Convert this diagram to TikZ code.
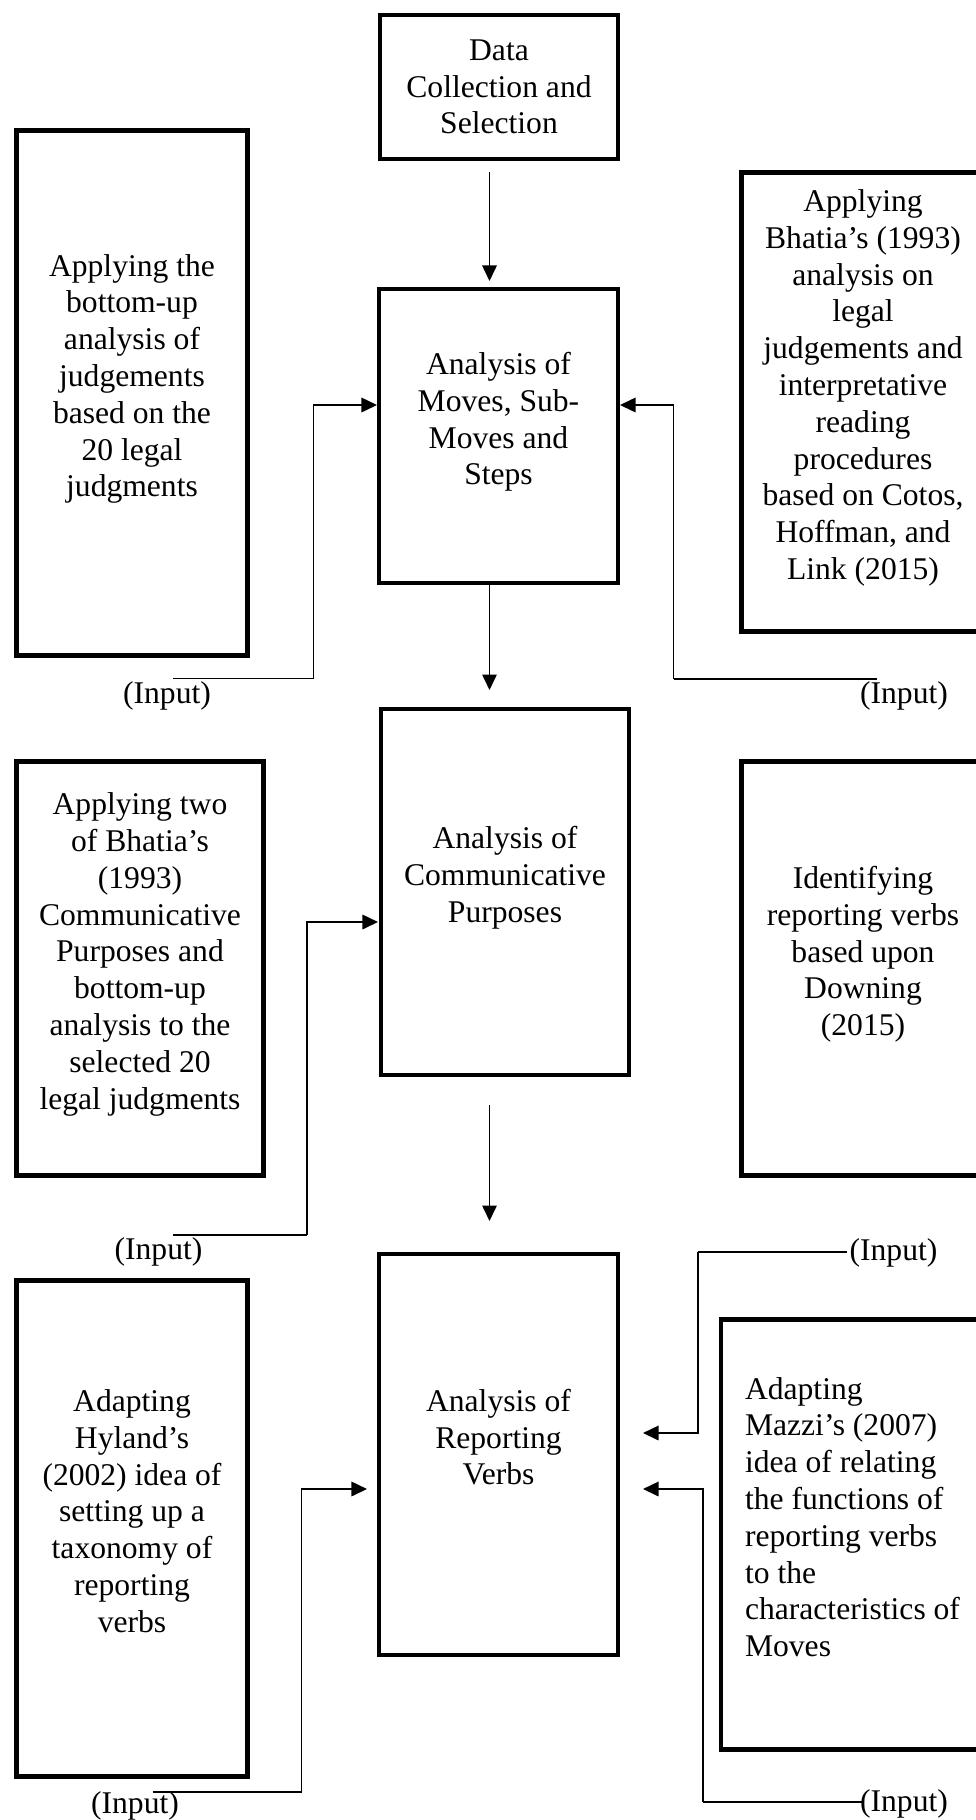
\documentclass[tikz,border=0pt]{standalone}
\usepackage{fontspec}
\setmainfont{Liberation Serif}
\usepackage{tikz}
\usetikzlibrary{
  arrows.meta,
  chains,
  positioning,
  scopes
}

\begin{document}
\begin{tikzpicture}[
      x=1pt,y=-1pt,
      stage/.style={
         rectangle,
         line width=4.5pt,
         draw=black,
         inner sep=0pt,
         align=center,
         font=\fontsize{31.6}{36.8}\selectfont
      },
      lifted/.style={
         %room under the last line, as in the source
         execute at end node={\rule[-35pt]{0pt}{35pt}}
      },
      remark/.style={
         inner sep=0pt,
         font=\fontsize{31.6}{36.8}\selectfont
      },
      point/.style={coordinate},>={Triangle[length=15.5pt,width=14.5pt]},
      tip/.style={->,shorten >=0.007pt},every join/.style={line width=1.6pt,draw=black},
      hv path/.style={to path={-| (\tikztotarget)}},
      vh path/.style={to path={|- (\tikztotarget)}}
    ]
    \fill[white] (0,0) rectangle (976,1820);
    \useasboundingbox (0,0) rectangle (976,1820);
    % centre column
    \node (n12) [stage, minimum width=238pt, minimum height=144pt] at (499,87)
      {Data\\Collection and\\Selection};
    \node (n22) [stage, lifted, minimum width=239pt, minimum height=294pt] at (498.5,436)
      {Analysis of\\Moves, Sub-\\Moves and\\Steps};
    \node (n32) [stage, lifted, minimum width=248pt, minimum height=366pt] at (505,892)
      {Analysis of\\Communicative\\Purposes};
    \node (n42) [stage, lifted, minimum width=239pt, minimum height=401pt] at (498.5,1454.5)
      {Analysis of\\Reporting\\Verbs};
    % left column
    \node (n21) [stage, lifted, minimum width=231pt, minimum height=525pt] at (132,393)
      {Applying the\\bottom-up\\analysis of\\judgements\\based on the\\20 legal\\judgments};
    \node (n31) [stage, lifted, minimum width=247pt, minimum height=414pt] at (140,968.5)
      {Applying two\\of Bhatia’s\\(1993)\\Communicative\\Purposes and\\bottom-up\\analysis to the\\selected 20\\legal judgments};
    \node (n41) [stage, lifted, minimum width=231pt, minimum height=496pt] at (132,1528.5)
      {Adapting\\Hyland’s\\(2002) idea of\\setting up a\\taxonomy of\\reporting\\verbs};
    % right column
    \node (n23) [stage, lifted, minimum width=243pt, minimum height=459pt] at (863,402)
      {Applying\\Bhatia’s (1993)\\analysis on\\legal\\judgements and\\interpretative\\reading\\procedures\\based on Cotos,\\Hoffman, and\\Link (2015)};
    \node (n33) [stage, lifted, minimum width=243pt, minimum height=414pt] at (863,968.5)
      {Identifying\\reporting verbs\\based upon\\Downing\\(2015)};
    \node (n43) [stage, lifted, align=left, minimum width=263pt, minimum height=430pt] at (852.5,1534.5)
      {Adapting\\Mazzi’s (2007)\\idea of relating\\the functions of\\reporting verbs\\to the\\characteristics of\\Moves};
    % inputs
    \node (m21) [remark] at (167,696) {(Input)};
    \node (m23) [remark] at (904,696) {(Input)};
    \node (m31) [remark] at (158.5,1251.5) {(Input)};
    \node (m41) [remark] at (135,1805.5) {(Input)};
    \node (m43) [remark] at (893.5,1253) {(Input)};
    \node (m44) [remark] at (904,1803.5) {(Input)};
    % bend points
    \node (n1a) [point] at (489.5,172) {};
    \node (n1b) [point] at (489.5,281) {};
    \node (n2a) [point] at (173,678.5) {};
    \node (n2b) [point] at (313.5,678.5) {};
    \node (n2c) [point] at (377,405) {};
    \node (n2d) [point] at (877,679) {};
    \node (n2e) [point] at (673.5,679) {};
    \node (n2f) [point] at (620,405) {};
    \node (n2g) [point] at (489.5,585) {};
    \node (n2h) [point] at (489.5,690) {};
    \node (n3a) [point] at (173,1235) {};
    \node (n3b) [point] at (307,1235) {};
    \node (n3c) [point] at (378,922) {};
    \node (n3d) [point] at (489.5,1105) {};
    \node (n3e) [point] at (489.5,1221) {};
    \node (n4a) [point] at (153,1792) {};
    \node (n4b) [point] at (301.5,1792) {};
    \node (n4c) [point] at (367,1489) {};
    \node (n4d) [point] at (847,1252) {};
    \node (n4e) [point] at (698,1252) {};
    \node (n4f) [point] at (643,1433) {};
    \node (n4g) [point] at (862,1802) {};
    \node (n4h) [point] at (703,1802) {};
    \node (n4i) [point] at (643,1489) {};
  { [start chain]
       \chainin (n1a);
       \chainin (n1b)    [join=by tip];
  }
  { [start chain]
       \chainin (n2g);
       \chainin (n2h)    [join=by tip];
  }
  { [start chain]
       \chainin (n3d);
       \chainin (n3e)    [join=by tip];
  }
  { [start chain]
       \chainin (n2a);
       \chainin (n2b)    [join];
       \chainin (n2c)    [join=by {vh path,tip}];
  }
  { [start chain]
       \chainin (n2d);
       \chainin (n2e)    [join];
       \chainin (n2f)    [join=by {vh path,tip}];
  }
  { [start chain]
       \chainin (n3a);
       \chainin (n3b)    [join];
       \chainin (n3c)    [join=by {vh path,tip}];
  }
  { [start chain]
       \chainin (n4a);
       \chainin (n4b)    [join];
       \chainin (n4c)    [join=by {vh path,tip}];
  }
  { [start chain]
       \chainin (n4d);
       \chainin (n4e)    [join];
       \chainin (n4f)    [join=by {vh path,tip}];
  }
  { [start chain]
       \chainin (n4g);
       \chainin (n4h)    [join];
       \chainin (n4i)    [join=by {vh path,tip}];
  }
\end{tikzpicture}
\end{document}
